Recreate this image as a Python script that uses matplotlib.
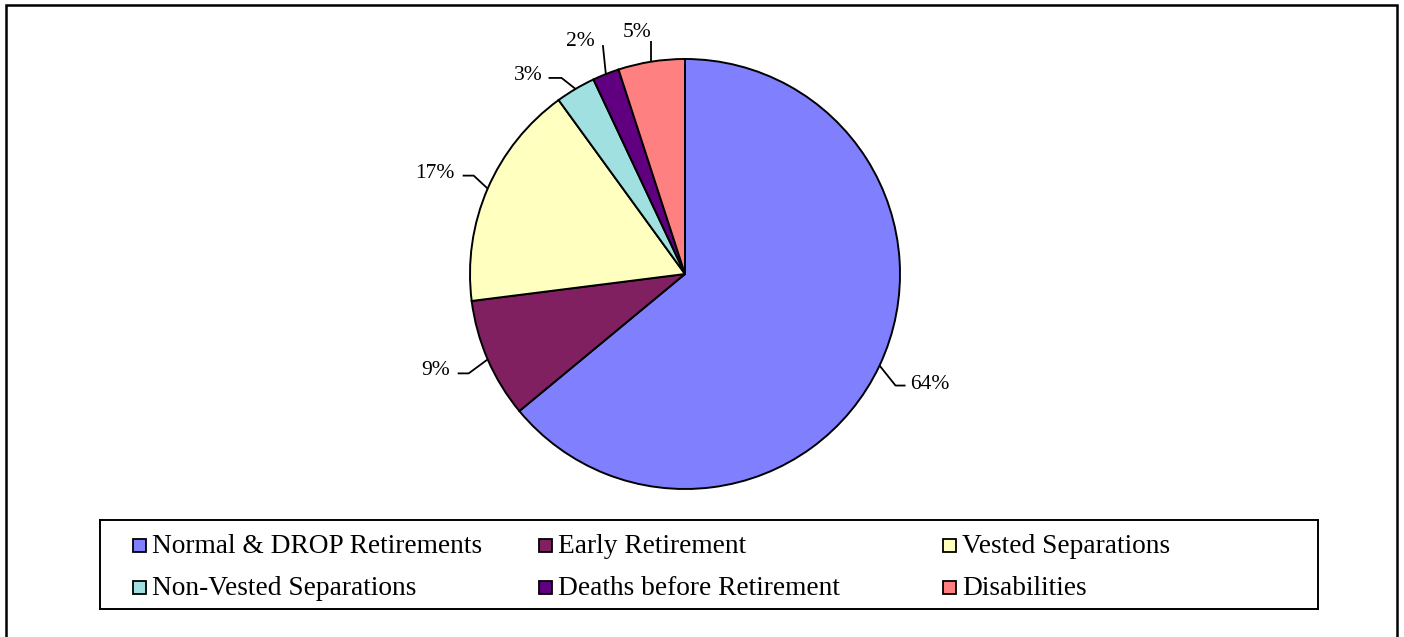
import matplotlib
matplotlib.use("Agg")
import matplotlib.pyplot as plt
from matplotlib.patches import Rectangle
import numpy as np

# ---- data ----
categories = ["Normal & DROP Retirements", "Early Retirement", "Vested Separations",
              "Non-Vested Separations", "Deaths before Retirement", "Disabilities"]
values = [64, 9, 17, 3, 2, 5]
labels = ["64%", "9%", "17%", "3%", "2%", "5%"]
colors = ["#8080FF", "#802060", "#FFFFC0", "#A0E0E0", "#600080", "#FF8080"]

# ---- layout (pixels) ----
W, H = 1404, 637
CX, CY, R = 685, 274, 215
FONT = "Liberation Serif"

fig = plt.figure(figsize=(W / 100, H / 100), dpi=100)
fig.patch.set_facecolor("white")

def fx(px):
    return px / W

def fy(py):
    return 1 - py / H

# outer border
fig.patches.append(Rectangle((fx(6), fy(660)), fx(1397) - fx(6), fy(5) - fy(660),
                             transform=fig.transFigure, fill=False,
                             edgecolor="black", linewidth=1.8))

# pie axes
ax = fig.add_axes([fx(CX - R), fy(CY + R), 2 * R / W, 2 * R / H])
wedges, _ = ax.pie(values, colors=colors, startangle=90, counterclock=False,
                   radius=1, wedgeprops=dict(edgecolor="black", linewidth=1.4))
for w in wedges:
    w.set_clip_on(False)
ax.set_xlim(-1, 1)
ax.set_ylim(-1, 1)
ax.set_aspect("equal")
ax.axis("off")

# leader line styling: elbow offset, horizontal length, text offset (screen px)
leader = [
    ((16, 20), 10, (5, 3), "left"),
    ((-19, 14), -11, (-8, 2), "right"),
    ((-14, -13), -11, (-8, 2), "right"),
    ((-14, -11), -13, (-6, 2), "right"),
    ((-3, -29), 0, (-8, 1), "right"),
    ((0, -21), 0, (0, -4), "right"),
]

for w, lab, (el, hl, toff, ha) in zip(wedges, labels, leader):
    ang = np.deg2rad((w.theta1 + w.theta2) / 2)
    ex, ey = np.cos(ang), np.sin(ang)
    bx, by = ex + el[0] / R, ey - el[1] / R
    hx = bx + hl / R
    ax.plot([ex, bx, hx], [ey, by, by], color="black", linewidth=1.3,
            clip_on=False, solid_capstyle="butt")
    ax.text(hx + toff[0] / R, by - toff[1] / R, lab, ha=ha, va="baseline",
            fontsize=15.5, family=FONT, clip_on=False)

# legend box
LX0, LX1, LY0, LY1 = 100, 1318, 520, 609
lax = fig.add_axes([fx(LX0), fy(LY1), (LX1 - LX0) / W, (LY1 - LY0) / H])
lax.set_xlim(LX0, LX1)
lax.set_ylim(LY1, LY0)
lax.set_xticks([])
lax.set_yticks([])
for s in lax.spines.values():
    s.set_linewidth(1.4)
    s.set_color("black")

col_x = [133, 539, 943]
row_c = [545, 587]
SQ = 13
for i, (cat, col) in enumerate(zip(categories, colors)):
    r, c = divmod(i, 3)
    x0 = col_x[c]
    yc = row_c[r]
    lax.add_patch(Rectangle((x0, yc - SQ / 2), SQ, SQ, facecolor=col,
                            edgecolor="black", linewidth=1.3))
    lax.text(x0 + SQ + 6, yc + 8, cat, ha="left", va="baseline",
             fontsize=19.7, family=FONT)

fig.savefig("out.png", dpi=100)
